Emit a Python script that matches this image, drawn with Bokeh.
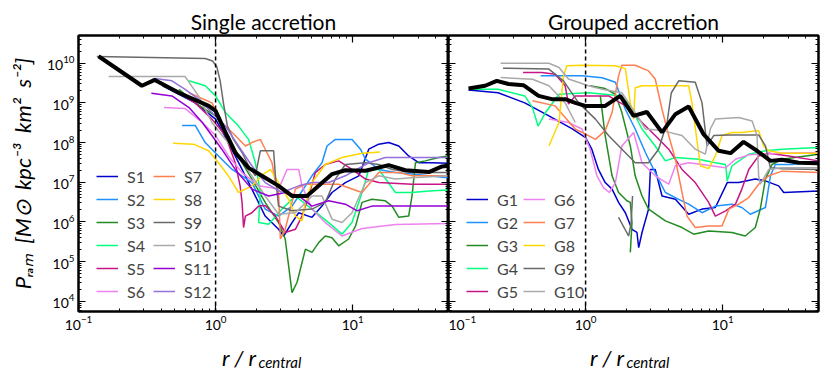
import math
from bokeh.plotting import figure
from bokeh.models import (Range1d, FixedTicker, LogAxis, Span, Legend, LegendItem,
                          Label, CustomJSTickFormatter)
from bokeh.layouts import row
from bokeh.embed import file_html
from bokeh.resources import INLINE

NaN = float("nan")

# ---------------- tick positions ----------------
x_major = [0.1, 1, 10]
x_minor = [m * 10.0 ** k for k in (-1, 0, 1) for m in range(2, 10) if m * 10.0 ** k <= 50]
y_major = [1e4, 1e5, 1e6, 1e7, 1e8, 1e9, 1e10]
y_minor = [m * 10.0 ** k for k in range(3, 11) for m in range(2, 10) if 5.5e3 <= m * 10.0 ** k <= 5e10]

# ---------------- Single accretion ----------------
single_names = ["S1", "S2", "S3", "S4", "S5", "S6", "S7", "S8", "S9", "S10", "S11", "S12"]
single_colors = ["mediumblue", "dodgerblue", "forestgreen", "springgreen", "mediumvioletred",
                 "violet", "coral", "gold", "dimgray", "darkgray", "darkviolet", "mediumpurple"]

s1_r = [0.41, 0.71, 1.0, 1.24, 1.56, 1.84, 2.3, 2.88, 3.14, 3.61, 4.04, 5.05, 5.97, 7.07, 8.84, 11.1, 13.1, 15.5, 18.3, 21.7, 25.6, 30.3, 37.9, 50]
s1_p = [2.7e9, 1.0e9, 3.9e8, 1.0e8, 2.1e7, 6.7e6, 1.4e6, 6.5e5, 4.4e5, 9.6e5, 1.7e6, 1.3e6, 2.5e6, 5.5e6, 9.8e6, 1.45e7, 6.8e7, 9.1e7, 1.0e8, 8.2e7, 4.6e7, 3.1e7, 3.1e7, 3.0e7]
s2_r = [0.57, 0.71, 0.84, 1.05, 1.32, 1.84, 2.3, 2.88, 3.61, 4.04, 4.52, 5.05, 5.97, 6.5, 7.47, 9.89, 11.4, 12.4, 15.5, 20.5, 27.1, 35.9, 50]
s2_p = [2.7e8, 2.7e8, 1.0e8, 4.6e7, 2.1e7, 9.8e6, 2.1e6, 1.4e6, 2.5e6, 4.5e6, 8.1e6, 1.45e7, 3.1e7, 8.2e7, 1.2e8, 1.2e8, 6.8e7, 3.8e7, 2.1e7, 1.75e7, 1.6e7, 1.45e7, 1.3e7]
s3_r = [0.54, 0.71, 1.0, 1.24, 1.56, 1.84, 2.3, 2.88, 3.22, 3.61, 3.93, 4.52, 5.05, 5.65, 6.31, 7.07, 7.9, 9.35, 10.5, 11.7, 13.8, 17.3, 19.4, 21.7, 25.6, 27.1, 28.7, 33.9, 42.4, 50]
s3_p = [2.2e9, 1.0e9, 4.7e8, 1.5e8, 3.1e7, 1.2e7, 3.1e6, 9.6e5, 3.7e5, 1.65e4, 3.0e4, 2.05e5, 1.7e5, 3.0e5, 4.4e5, 4.0e5, 2.5e5, 3.7e5, 7.9e5, 3.1e6, 3.7e6, 3.4e6, 2.5e6, 1.3e6, 1.4e6, 4.5e6, 3.1e7, 3.45e7, 4.2e7, 4.6e7]
s4_r = [0.64, 0.84, 1.0, 1.18, 1.47, 1.74, 1.95, 2.12, 2.06, 2.44, 3.05, 3.82, 5.05, 6.68, 8.36, 9.89, 11.7, 13.1, 15.5, 20.5, 27.1, 35.9, 50]
s4_p = [3.6e9, 2.7e9, 1.5e9, 5.7e8, 2.6e8, 1.2e8, 3.1e7, 5.5e6, 9.6e5, 8.7e5, 2.1e6, 4.5e6, 2.1e6, 9.6e5, 4.9e5, 9.6e5, 5.5e6, 2.1e7, 2.1e7, 5.5e6, 5.5e6, 6.0e6, 6.4e6]
s5_r = [0.54, 0.71, 0.94, 1.18, 1.39, 1.51, 1.56, 1.6, 1.65, 1.84, 2.06, 2.3, 2.73, 3.22, 3.82, 4.27, 4.78, 5.34, 6.31, 7.9, 9.89, 12.4, 15.5, 27.1, 50]
s5_p = [1.8e9, 1.0e9, 3.9e8, 1.5e8, 3.1e7, 8.1e6, 3.1e6, 7.2e5, 1.4e6, 1.7e6, 2.5e6, 2.6e6, 1.4e6, 5.4e5, 6.5e5, 1.4e6, 4.5e6, 1.75e7, 2.8e7, 3.45e7, 2.1e7, 1.2e7, 9.8e6, 8.9e6, 8.9e6]
s6_r = [0.42, 0.6, 0.8, 1.0, 1.24, 1.56, 2.06, 2.88, 3.32, 4.04, 4.27, 5.05, 6.31, 8.36, 11.7, 20.5, 50]
s6_p = [7.6e8, 7.2e8, 3.2e8, 1.5e8, 4.6e7, 1.75e7, 8.1e6, 6.7e6, 2.1e7, 2.1e7, 8.1e6, 2.1e6, 9.6e5, 4.4e5, 6.8e5, 8.6e5, 9.1e5]
s7_r = [0.64, 0.94, 1.11, 1.39, 1.65, 1.84, 2.12, 2.24, 2.58, 2.73, 2.88, 2.97, 3.22, 3.82, 4.52, 5.65, 7.9, 11.7, 15.5, 21.7, 27.1, 50]
s7_p = [1.8e9, 1.0e9, 3.2e8, 1.5e8, 8.2e7, 1.0e8, 1.2e8, 8.2e7, 3.1e7, 9.8e6, 5.5e6, 3.7e5, 6.5e5, 6.7e6, 8.9e6, 8.9e6, 8.9e6, 5.5e6, 1.75e7, 1.75e7, 1.45e7, 1.45e7]
s8_r = [0.49, 0.69, 0.89, 1.05, 1.24, 1.47, 1.84, 2.24, 2.51, 2.88, 3.41, 3.82, 4.27, 4.52, 5.05, 6.31, 8.36, 11.7, 15.9]
s8_p = [9.6e7, 9.1e7, 6.2e7, 3.1e7, 1.45e7, 5.5e6, 8.1e6, 1.6e7, 2.1e7, 9.8e6, 3.7e6, 1.4e6, 1.06e6, 3.1e6, 9.8e6, 2.8e7, 4.2e7, 5.4e7, 5.8e7]
s9_r = [0.136, 0.84, 0.95, 1.02, 1.08, 1.14, 1.22, 1.35, 1.56, 1.74, 1.95, 2.12, 2.65, 2.73, 2.88, 3.61, 5.05, 6.31, 7.47, 8.84, 12.4, 15.5, 19.4, 27.1, 50]
s9_p = [1.47e10, 1.31e10, 1.14e10, 8.2e9, 3.6e9, 1.0e9, 2.6e8, 1.2e8, 5.6e7, 2.6e7, 1.45e7, 6.2e7, 6.2e7, 1.45e7, 2.5e6, 1.9e6, 2.1e6, 3.1e6, 1.2e7, 2.8e7, 3.1e7, 2.8e7, 2.1e7, 1.75e7, 1.75e7]
s10_r = [0.166, 0.6, 0.75, 0.94, 1.18, 1.47, 1.84, 2.3, 2.88, 3.82, 5.05, 5.97, 7.07, 8.36, 9.89, 12.4, 15.5, 20.5, 27.1, 50]
s10_p = [4.6e9, 4.6e9, 1.5e9, 3.2e8, 1.2e8, 4.6e7, 1.45e7, 4.5e6, 1.56e6, 1.7e6, 4.5e6, 4.5e6, 1.17e6, 9.6e5, 1.7e6, 9.8e6, 1.45e7, 1.2e7, 1.3e7, 1.45e7]
s11_r = [0.34, 0.48, 0.64, 0.8, 0.94, 1.11, 1.39, 1.84, 2.44, 3.22, 4.04, 5.05, 6.68, 8.84, 10.8, 13.8, 20.5, 50]
s11_p = [1.75e9, 1.5e9, 7.6e8, 3.2e8, 1.5e8, 6.8e7, 2.1e7, 6.7e6, 4.5e6, 5.5e6, 4.5e6, 2.5e6, 3.4e6, 2.8e6, 1.9e6, 2.5e6, 2.5e6, 2.5e6]
s12_r = [0.36, 0.48, 0.6, 0.75, 0.94, 1.18, 1.47, 1.84, 2.3, 3.05, 4.04, 5.05, 6.68, 8.84, 13.1, 17.3, 27.1, 50]
s12_p = [4.1e9, 3.6e9, 2.2e9, 1.24e9, 5.7e8, 2.6e8, 8.2e7, 2.6e7, 9.8e6, 5.5e6, 8.1e6, 9.8e6, 9.8e6, 1.45e7, 3.1e7, 4.2e7, 4.2e7, 4.2e7]

single_median_r = [0.14, 0.29, 0.36, 0.54, 0.89, 1.0, 1.18, 1.39, 1.74, 2.3, 2.88, 3.61, 4.64, 5.65, 7.07, 8.84, 12.4, 18.3, 24.2, 35.9, 44.9, 50]
single_median_p = [1.5e10, 2.7e9, 3.8e9, 1.8e9, 8.4e8, 6.3e8, 1.8e8, 5.6e7, 2.3e7, 1.3e7, 8.1e6, 4.5e6, 4.5e6, 8.1e6, 1.6e7, 2.0e7, 1.95e7, 2.7e7, 2.0e7, 1.8e7, 2.5e7, 2.6e7]

# ---------------- Grouped accretion ----------------
group_names = ["G1", "G2", "G3", "G4", "G5", "G6", "G7", "G8", "G9", "G10"]
group_colors = ["mediumblue", "dodgerblue", "forestgreen", "springgreen", "mediumvioletred",
                "violet", "coral", "gold", "dimgray", "darkgray"]

g1_r = [0.14, 0.23, 0.36, 0.54, 0.8, 1.0, 1.11, 1.24, 1.39, 1.56, 1.74, 1.95, 2.18, 2.37, 2.44, 2.58, 2.88, 2.97, 3.22, 3.61, 4.52, 5.65, 7.07, 8.84, 10.8, 13.1, 17.3, 20.5, 25.6, 27.9, 50]
g1_p = [2.1e9, 1.8e9, 1.0e9, 4.7e8, 2.2e8, 1.33e8, 6.8e7, 2.1e7, 9.8e6, 6.7e6, 3.1e6, 1.7e6, 6.5e5, 5.4e5, 2.25e5, 5.4e5, 2.1e6, 2.1e7, 2.1e7, 4.5e6, 3.7e6, 1.56e6, 2.1e6, 2.3e6, 9.8e6, 9.8e6, 1.2e7, 1.08e7, 8.1e6, 5.5e6, 6.0e6]
g2_r = [0.47, 0.94, 1.32, 1.65, 1.95, 2.3, 2.73, 3.22, 3.82, 4.78, 5.65, 7.07, 8.84, 11.7, 13.8, 15.9, 20.5, 22.3, 24.2, 32.1, 50]
g2_p = [4.8e9, 4.8e9, 4.3e9, 3.3e9, 6.9e8, 2.2e8, 5.6e7, 1.75e7, 5.5e6, 3.7e6, 2.8e6, 1.7e6, 2.5e6, 2.8e6, 2.3e6, 1.56e6, 2.3e6, 1.45e7, 2.8e7, 2.8e7, 3.45e7]
g3_r = [1.08, 1.39, 1.65, 1.84, 2.12, 2.3, 2.58, 2.88, 3.82, 5.05, 6.14, 7.9, 11.7, 14.6, 17.3, 18.8, 20.5, 22.9, 27.1, 50,
        NaN, 1.28, 1.39, 1.56, 1.74, 2.0, 2.12, 2.18, 2.12]
g3_p = [2.7e9, 2.3e9, 1.65e9, 5.7e8, 8.2e7, 1.45e7, 4.5e6, 2.1e6, 1.06e6, 7.2e5, 4.9e5, 5.9e5, 5.4e5, 4.4e5, 7.2e5, 2.1e6, 1.2e7, 2.8e7, 3.8e7, 5.1e7,
        NaN, 1.5e9, 1.5e8, 1.45e7, 5.5e6, 3.4e6, 3.1e6, 9.6e5, 1.7e5]
g4_r = [0.14, 0.23, 0.36, 0.41, 0.45, 0.51, 0.64, 1.05, 1.65, 2.06, 2.58, 3.22, 3.82, 4.52, 6.68, 8.84, 10.5, 10.8, 11.7, 15.5, 20.5, 27.1, 50]
g4_p = [2.2e9, 2.2e9, 1.5e9, 7.6e8, 2.6e8, 5.7e8, 1.65e9, 1.8e9, 1.56e9, 1.0e9, 2.2e8, 8.2e7, 3.45e7, 4.2e7, 3.8e7, 3.1e7, 2.8e7, 1.08e7, 2.6e7, 5.1e7, 6.2e7, 6.8e7, 7.5e7]
g5_r = [0.35, 0.48, 0.6, 0.71, 0.75, 0.84, 1.05, 1.47, 2.06, 2.58, 3.22, 4.04, 5.05, 6.31, 7.9, 8.84, 10.5, 12.4, 13.8, 15.5, 18.3, 21.7, 30.3, 50]
g5_p = [5.8e9, 5.8e9, 5.3e9, 2.7e9, 9.3e8, 1.5e9, 1.5e9, 1.5e9, 7.6e8, 3.2e8, 1.5e8, 6.8e7, 2.1e7, 9.8e6, 3.1e6, 1.4e6, 1.9e6, 2.8e6, 6.7e6, 2.1e7, 4.6e7, 5.4e7, 4.6e7, 3.45e7]
g6_r = [0.54, 0.75, 0.94, 1.08, 1.21, 1.35, 1.49, 1.65, 1.84, 2.24, 2.58, 3.22, 4.04, 4.52, 5.65, 7.07, 10.5, 12.4, 15.5, 27.1, 50]
g6_p = [3.9e8, 3.2e8, 2.2e8, 6.8e7, 1.45e7, 7.3e6, 5.5e6, 9.8e6, 8.2e7, 1.8e8, 3.1e7, 1.45e7, 8.9e6, 2.6e7, 3.1e7, 2.8e7, 2.3e7, 3.8e7, 4.9e7, 5.4e7, 5.6e7]
g7_r = [0.41, 0.6, 0.84, 1.05, 1.18, 1.39, 1.56, 1.74, 1.84, 2.3, 2.88, 3.22, 3.61, 4.04, 4.52, 5.05, 5.49, 6.31, 7.9, 9.89, 11.1, 13.1, 15.5, 18.3, 21.7, 27.1, 50]
g7_p = [1.13e9, 8.4e8, 2.2e8, 1.5e8, 1.2e8, 2.0e8, 5.7e8, 4.8e9, 8.9e9, 8.9e9, 6.4e9, 4.0e9, 6.9e8, 1.5e8, 3.8e7, 5.5e6, 1.4e6, 7.2e5, 7.9e5, 7.9e5, 2.1e6, 2.8e6, 4.1e6, 8.9e6, 1.45e7, 1.9e7, 1.75e7]
g8_r = [0.54, 0.64, 0.69, 0.73, 0.94, 1.65, 1.95, 2.12, 2.24, 2.3, 2.58, 5.65, 5.97, 6.87, 7.9, 8.84, 9.89, 11.7, 13.8, 18.3, 19.9, 21.7, 27.1, 50]
g8_p = [8.2e7, 3.2e8, 4.8e9, 8.6e9, 8.9e9, 8.6e9, 7.3e9, 1.0e9, 3.9e8, 2.4e9, 2.7e9, 2.7e9, 1.0e9, 2.6e7, 2.2e7, 4.6e7, 1.5e8, 1.8e8, 1.8e8, 2.0e8, 8.2e7, 6.2e7, 5.4e7, 5.4e7]
g9_r = [0.25, 0.54, 0.69, 0.89, 1.18, 1.47, 1.79, 2.06, 2.3, 2.88, 3.41, 3.93, 4.22, 4.78, 6.31, 7.07, 7.69, 8.6, 11.1, 18.3, 20.5, 22.3, 27.1, 50,
        NaN, 1.74, 2.06, 2.15, 2.2]
g9_p = [7.5e9, 7.1e9, 3.6e9, 1.0e9, 3.9e8, 1.5e8, 7.5e7, 4.6e7, 3.1e7, 3.1e7, 6.8e7, 3.2e8, 1.8e9, 3.6e9, 3.3e9, 1.0e9, 8.2e7, 1.5e8, 1.56e8, 1.56e8, 8.2e7, 2.3e7, 2.2e7, 2.1e7,
        NaN, 1.3e6, 4.4e5, 9.6e5, 4.5e6]
g10_r = [0.24, 0.54, 0.64, 0.75, 1.05, 1.32, 1.84, 2.3, 2.73, 3.61, 5.05, 6.31, 7.47, 8.13, 8.84, 13.1, 16.4, 17.8, 18.3, 18.8, 21.7, 27.1, 50,
         NaN, 0.24, 0.41, 0.54, 0.71, 0.84]
g10_p = [1.0e10, 1.0e10, 7.8e9, 4.0e9, 2.7e9, 2.2e9, 1.8e9, 5.7e8, 2.2e8, 2.0e8, 1.5e8, 6.8e7, 5.1e7, 2.2e8, 3.9e8, 4.3e8, 3.5e8, 1.5e8, 1.45e7, 8.9e6, 2.1e7, 2.3e7, 2.3e7,
         NaN, 4.35e9, 3.95e9, 2.7e9, 1.0e9, 3.2e8]

group_median_r = [0.14, 0.185, 0.225, 0.274, 0.352, 0.454, 0.568, 0.711, 0.841, 0.995, 1.39, 1.79, 2.24, 2.8, 3.61, 4.52, 5.65, 7.27, 9.35, 11.4, 14.2, 17.8, 22.3, 27.1, 35.9, 50]
group_median_p = [2.3e9, 2.7e9, 3.6e9, 3.0e9, 2.8e9, 1.5e9, 1.24e9, 1.24e9, 1.0e9, 8.4e8, 8.4e8, 1.5e9, 4.7e8, 5.9e8, 1.8e8, 5.2e8, 8.1e8, 1.6e8, 6.2e7, 5.4e7, 1.04e8, 6.2e7, 3.45e7, 3.7e7, 3.1e7, 3.0e7]

single_series = [(s1_r, s1_p), (s2_r, s2_p), (s3_r, s3_p), (s4_r, s4_p), (s5_r, s5_p), (s6_r, s6_p),
                 (s7_r, s7_p), (s8_r, s8_p), (s9_r, s9_p), (s10_r, s10_p), (s11_r, s11_p), (s12_r, s12_p)]
group_series = [(g1_r, g1_p), (g2_r, g2_p), (g3_r, g3_p), (g4_r, g4_p), (g5_r, g5_p),
                (g6_r, g6_p), (g7_r, g7_p), (g8_r, g8_p), (g9_r, g9_p), (g10_r, g10_p)]

FONT = "Lato"
Y_LABEL = "P\u1d63\u2090\u2098\u00a0 [M\u2299\u00a0 kpc\u207b\u00b3\u00a0 km\u00b2\u00a0 s\u207b\u00b2]"


def style_axis(ax, labels=True):
    ax.axis_line_color = "black"
    ax.axis_line_width = 2
    ax.major_tick_in = 7
    ax.major_tick_out = 0
    ax.minor_tick_in = 3
    ax.minor_tick_out = 0
    ax.major_tick_line_width = 1.2
    ax.minor_tick_line_width = 1
    ax.major_tick_line_color = "black"
    ax.minor_tick_line_color = "black"
    if labels:
        ax.major_label_text_font = FONT
        ax.major_label_text_font_size = "14px"
        ax.major_label_text_color = "black"
        ax.major_label_standoff = 4
    else:
        ax.formatter = CustomJSTickFormatter(code="return ''")
        ax.major_label_standoff = 0
        ax.major_label_text_font_size = "1px"


def side_label(p, place, **kw):
    p.add_layout(Label(x_units="screen", y_units="screen", text_color="black",
                       text_font=FONT, **kw), place)


def make_panel(title, names, colors, series, med_r, med_p, is_left, nrows, label_anchor):
    p = figure(x_axis_type="log", y_axis_type="log",
               x_range=Range1d(0.1, 50), y_range=Range1d(5.5e3, 5e10),
               frame_width=370, frame_height=276,
               output_backend="svg", toolbar_location=None, title=title,
               min_border_left=78 if is_left else 0,
               min_border_right=0 if is_left else 4,
               min_border_top=35, min_border_bottom=30,
               background_fill_color="white", border_fill_color="white")
    p.title.align = "center"
    p.title.text_font = FONT
    p.title.text_font_size = "21px"
    p.title.text_font_style = "normal"
    p.title.text_color = "black"
    p.title.standoff = 4

    p.xgrid.visible = False
    p.ygrid.visible = False
    p.outline_line_color = "black"
    p.outline_line_width = 2

    p.xaxis.ticker = FixedTicker(ticks=x_major, minor_ticks=x_minor)
    p.yaxis.ticker = FixedTicker(ticks=y_major, minor_ticks=y_minor)
    style_axis(p.xaxis[0], True)
    style_axis(p.yaxis[0], is_left)
    if is_left:
        p.yaxis.axis_label = Y_LABEL
        p.yaxis.axis_label_text_font = FONT
        p.yaxis.axis_label_text_font_style = "italic"
        p.yaxis.axis_label_text_font_size = "22px"
        p.yaxis.axis_label_text_color = "black"
        p.yaxis.axis_label_standoff = 8

    top = LogAxis(ticker=FixedTicker(ticks=x_major, minor_ticks=x_minor))
    style_axis(top, False)
    p.add_layout(top, "above")
    right = LogAxis(ticker=FixedTicker(ticks=y_major, minor_ticks=y_minor))
    style_axis(right, False)
    p.add_layout(right, "right")

    items = []
    for name, color, (rr, pp) in zip(names, colors, series):
        rend = p.line(rr, pp, line_color=color, line_width=1.5)
        items.append(LegendItem(label=name, renderers=[rend]))
    p.line(med_r, med_p, line_color="black", line_width=4)

    p.add_layout(Span(location=1, dimension="height", line_color="black",
                      line_dash="4 3", line_width=1.5))

    legend = Legend(items=items, location=(18, 10), ncols=2, nrows=nrows,
                    glyph_width=22, glyph_height=20, label_height=20, label_width=23,
                    label_standoff=9, spacing=3, padding=0, margin=0,
                    background_fill_alpha=0, border_line_alpha=0,
                    label_text_font=FONT, label_text_font_size="16px")
    p.add_layout(legend)

    # x-axis label "r / r_central": two texts in side panels below the axis
    side_label(p, "below", x=label_anchor, y=2, text="r / r", text_align="right",
               text_baseline="alphabetic", text_font_style="italic", text_font_size="22px")
    side_label(p, "below", x=label_anchor + 2, y=16, text="central", text_align="left",
               text_baseline="alphabetic", text_font_style="italic", text_font_size="15px")
    return p


p_left = make_panel("Single accretion", single_names, single_colors, single_series,
                    single_median_r, single_median_p, True, 6, 178)
p_right = make_panel("Grouped accretion", group_names, group_colors, group_series,
                     group_median_r, group_median_p, False, 5, 176)

layout = row(p_left, p_right, spacing=0)
open("out.html", "w").write(file_html(layout, INLINE))
